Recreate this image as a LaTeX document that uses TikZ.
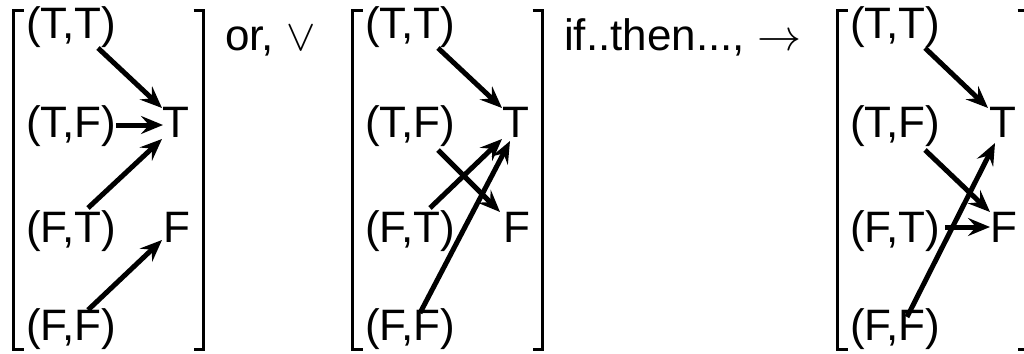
\RequirePackage{fix-cm}
\documentclass[tikz,border=0pt]{standalone}
\usepackage{fontspec}
\setmainfont{Liberation Sans}
\usetikzlibrary{arrows.meta,calc}
\newcommand{\bigtext}{\fontsize{44}{50}\selectfont}
\tikzset{
  entry/.style={inner sep=0pt, outer sep=0pt, anchor=base west, font=\bigtext},
  lbl/.style={inner sep=0pt, outer sep=0pt, anchor=base west, font=\bigtext},
  brk/.style={line width=3pt, line cap=butt, line join=miter},
  arr/.style={line width=5pt, -{Stealth[length=22pt,width=18pt,inset=8pt]}}
}
\begin{document}
\begin{tikzpicture}[x=1pt,y=-1pt]
\useasboundingbox (0,0) rectangle (1024,353);
% ---------- matrix 1 ----------
\draw[brk] (23.5,11) -- (13.5,11) -- (13.5,349) -- (23.5,349);
\draw[brk] (193.5,11) -- (203.5,11) -- (203.5,349) -- (193.5,349);
\node[entry] (a1) at (26,39) {(T,T)};
\node[entry] (a2) at (26,137) {(T,F)};
\node[entry] (a3) at (26,242) {(F,T)};
\node[entry] (a4) at (26,340) {(F,F)};
\node[entry] (aT) at (162,137) {T};
\node[entry] (aF) at (163,242) {F};
\draw[arr] ($(a1.base west)+(72,9)$) -- ($(aT.base west)+(0,-29)$);
\draw[arr] ($(a2.base west)+(90,-12)$) -- ($(aT.base west)+(1,-12)$);
\draw[arr] ($(a3.base west)+(62,-34)$) -- ($(aT.base west)+(0,2)$);
\draw[arr] ($(a4.base west)+(62,-30)$) -- ($(aF.base west)+(-1,-2)$);
\node[lbl] (or) at (225,50) {or, $\vee$};
% ---------- matrix 2 ----------
\draw[brk] (362.5,11) -- (352.5,11) -- (352.5,349) -- (362.5,349);
\draw[brk] (532.5,11) -- (542.5,11) -- (542.5,349) -- (532.5,349);
\node[entry] (b1) at (365,39) {(T,T)};
\node[entry] (b2) at (365,137) {(T,F)};
\node[entry] (b3) at (365,242) {(F,T)};
\node[entry] (b4) at (365,340) {(F,F)};
\node[entry] (bT) at (502,137) {T};
\node[entry] (bF) at (503,242) {F};
\draw[arr] ($(b1.base west)+(73,9)$) -- ($(bT.base west)+(0,-29)$);
\draw[arr] ($(b2.base west)+(73,13)$) -- ($(bF.base west)+(-3,-30)$);
\draw[arr] ($(b3.base west)+(65,-34)$) -- ($(bT.base west)+(0,2)$);
\draw[arr] ($(b4.base west)+(55,-27)$) -- ($(bT.base west)+(8,4)$);
\node[lbl] (ifthen) at (564,50) {if..then..., $\to$};
% ---------- matrix 3 ----------
\draw[brk] (847.5,11) -- (837.5,11) -- (837.5,349) -- (847.5,349);
\draw[brk] (1017.5,11) -- (1027.5,11) -- (1027.5,349) -- (1017.5,349);
\node[entry] (c1) at (850,39) {(T,T)};
\node[entry] (c2) at (850,137) {(T,F)};
\node[entry] (c3) at (850,242) {(F,T)};
\node[entry] (c4) at (850,340) {(F,F)};
\node[entry] (cT) at (989,137) {T};
\node[entry] (cF) at (990,242) {F};
\draw[arr] ($(c1.base west)+(75,9)$) -- ($(cT.base west)+(-1,-29)$);
\draw[arr] ($(c2.base west)+(75,13)$) -- ($(cF.base west)+(0,-30)$);
\draw[arr] ($(c3.base west)+(95,-15)$) -- ($(cF.base west)+(0,-15)$);
\draw[arr] ($(c4.base west)+(57,-23)$) -- ($(cT.base west)+(6,6)$);
\end{tikzpicture}
\end{document}
